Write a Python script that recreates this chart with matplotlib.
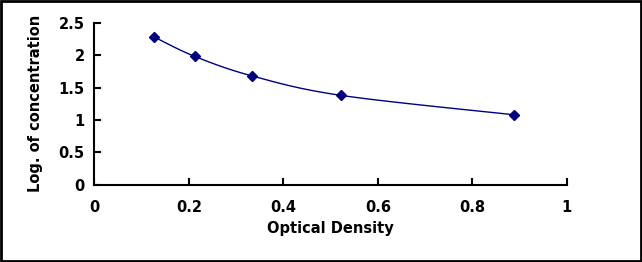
import numpy as np
import matplotlib.pyplot as plt
from matplotlib.patches import Rectangle

od = [0.126, 0.212, 0.333, 0.521, 0.888]
log_conc = [2.28, 1.98, 1.68, 1.38, 1.08]
xticks = [0, 0.2, 0.4, 0.6, 0.8, 1]
yticks = [0, 0.5, 1, 1.5, 2, 2.5]

plt.rcParams['font.family'] = ['DejaVu Sans']


# Excel-like smoothed line (Catmull-Rom through the points)
def smooth(xs, ys, n=30):
    p = np.column_stack([xs, ys])
    p = np.vstack([p[0], p, p[-1]])
    out = []
    t = np.linspace(0, 1, n)[:, None]
    for i in range(1, len(p) - 2):
        p0, p1, p2, p3 = p[i - 1], p[i], p[i + 1], p[i + 2]
        seg = 0.5 * (2 * p1 + (-p0 + p2) * t
                     + (2 * p0 - 5 * p1 + 4 * p2 - p3) * t ** 2
                     + (-p0 + 3 * p1 - 3 * p2 + p3) * t ** 3)
        out.append(seg)
    out = np.vstack(out)
    return out[:, 0], out[:, 1]


fig = plt.figure(figsize=(6.42, 2.62), dpi=100)
ax = fig.add_axes([0.147, 0.294, 0.736, 0.62])

sx, sy = smooth(od, log_conc)
ax.plot(sx, sy, color='#000080', lw=1)
ax.plot(od, log_conc, 'D', color='#000080', ms=5, ls='none')

ax.set_xlim(0, 1)
ax.set_ylim(0, 2.5)
ax.set_xticks(xticks)
ax.set_yticks(yticks)
ax.set_xticklabels(['0', '0.2', '0.4', '0.6', '0.8', '1'], fontweight='bold')
ax.set_yticklabels(['0', '0.5', '1', '1.5', '2', '2.5'], fontweight='bold')
ax.spines['top'].set_visible(False)
ax.spines['right'].set_visible(False)
for s in ['left', 'bottom']:
    ax.spines[s].set_linewidth(1.5)
ax.tick_params(direction='in', length=5, width=1.5, labelsize=10.5)
ax.tick_params(axis='x', pad=10.5)
ax.tick_params(axis='y', pad=7)

ax.set_xlabel('Optical Density', fontsize=10.5, fontweight='bold', labelpad=5)
ax.set_ylabel('Log. of concentration', fontsize=10.5, fontweight='bold', labelpad=11)

fig.patches.append(Rectangle((0.002, 0.004), 0.996, 0.992, transform=fig.transFigure,
                             fill=False, edgecolor='black', lw=2))

fig.savefig('out.png', dpi=100)
